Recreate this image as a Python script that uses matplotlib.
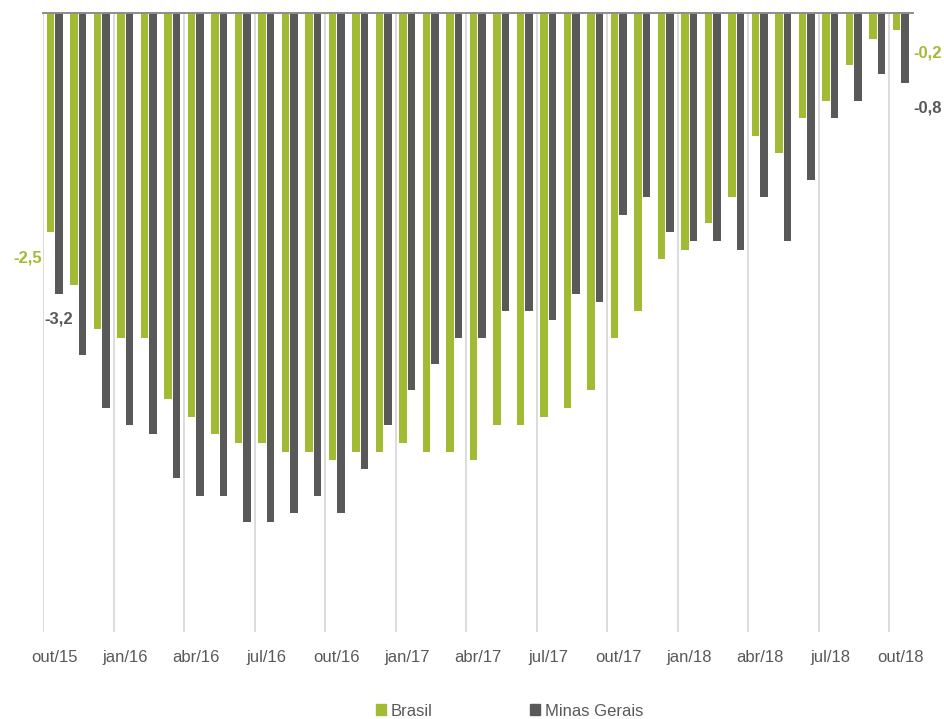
import matplotlib
matplotlib.use("Agg")
import matplotlib.pyplot as plt
import numpy as np
from matplotlib import font_manager
from matplotlib.patches import Patch

# ---- data ----
months = ["out/15", "nov/15", "dez/15",
          "jan/16", "fev/16", "mar/16", "abr/16", "mai/16", "jun/16",
          "jul/16", "ago/16", "set/16", "out/16", "nov/16", "dez/16",
          "jan/17", "fev/17", "mar/17", "abr/17", "mai/17", "jun/17",
          "jul/17", "ago/17", "set/17", "out/17", "nov/17", "dez/17",
          "jan/18", "fev/18", "mar/18", "abr/18", "mai/18", "jun/18",
          "jul/18", "ago/18", "set/18", "out/18"]
brasil = [-2.5, -3.1, -3.6, -3.7, -3.7, -4.4, -4.6, -4.8, -4.9, -4.9, -5.0, -5.0,
          -5.1, -5.0, -5.0, -4.9, -5.0, -5.0, -5.1, -4.7, -4.7, -4.6, -4.5, -4.3,
          -3.7, -3.4, -2.8, -2.7, -2.4, -2.1, -1.4, -1.6, -1.2, -1.0, -0.6, -0.3, -0.2]
minas = [-3.2, -3.9, -4.5, -4.7, -4.8, -5.3, -5.5, -5.5, -5.8, -5.8, -5.7, -5.5,
         -5.7, -5.2, -4.7, -4.3, -4.0, -3.7, -3.7, -3.4, -3.4, -3.5, -3.2, -3.3,
         -2.3, -2.1, -2.5, -2.6, -2.6, -2.7, -2.1, -2.6, -1.9, -1.2, -1.0, -0.7, -0.8]
series_names = ["Brasil", "Minas Gerais"]

# ---- fonts ----
available = {f.name for f in font_manager.fontManager.ttflist}
if "Liberation Sans Narrow" in available:
    FAM = ["Liberation Sans Narrow", "Liberation Sans", "DejaVu Sans"]
    FS = 13.5
else:
    FAM = ["Liberation Sans", "DejaVu Sans"]
    FS = 12
plt.rcParams["font.family"] = FAM

GREEN = "#A1BB34"
DARK = "#595959"
TXT = "#595959"

fig = plt.figure(figsize=(9.44, 7.19), dpi=100)
ax = fig.add_axes([43 / 944, 1 - 631.7 / 719, (912.5 - 43) / 944, (631.7 - 12.7) / 719])

x = np.arange(len(months))
w = 0.31
off = 0.18
ax.bar(x - off, brasil, w, color=GREEN, zorder=2)
ax.bar(x + off, minas, w, color=DARK, zorder=2)

ax.set_xlim(-0.5, len(months) - 0.5)
ax.set_ylim(-7.05, 0)

for s in ax.spines.values():
    s.set_visible(False)
ax.axhline(0, color="#8C8C8C", lw=1.4, zorder=3, clip_on=False)
for i in range(0, len(months), 3):
    ax.axvline(i - 0.5, color="#D9D9D9", lw=1.3, zorder=0)

ax.set_yticks([])
ax.set_xticks(x[::3])
ax.set_xticklabels(months[::3], fontsize=FS, color=TXT)
ax.tick_params(axis="x", length=0, pad=13)

# data labels for first and last points
lab_fs = FS
ax.text(-0.55, brasil[0] - 0.29, f"{brasil[0]:.1f}".replace(".", ","),
        color=GREEN, fontsize=lab_fs, fontweight="bold", ha="right", va="center")
ax.text(-0.45, minas[0] - 0.29, f"{minas[0]:.1f}".replace(".", ","),
        color=DARK, fontsize=lab_fs, fontweight="bold", ha="left", va="center")
n = len(months) - 1
ax.text(n + 0.55, brasil[n] - 0.26, f"{brasil[n]:.1f}".replace(".", ","),
        color=GREEN, fontsize=lab_fs, fontweight="bold", ha="left", va="center")
ax.text(n + 0.55, minas[n] - 0.28, f"{minas[n]:.1f}".replace(".", ","),
        color=DARK, fontsize=lab_fs, fontweight="bold", ha="left", va="center")

handles = [Patch(color=GREEN, label=series_names[0]),
           Patch(color=DARK, label=series_names[1])]
leg = fig.legend(handles=handles, loc="center", bbox_to_anchor=(509.5 / 944, 1 - 711 / 719),
                 ncol=2, frameon=False, fontsize=FS, handlelength=0.6, handleheight=0.6,
                 handletextpad=0.3, columnspacing=5.8, borderpad=0)
for t in leg.get_texts():
    t.set_color(TXT)

fig.savefig("out.png", dpi=100)
